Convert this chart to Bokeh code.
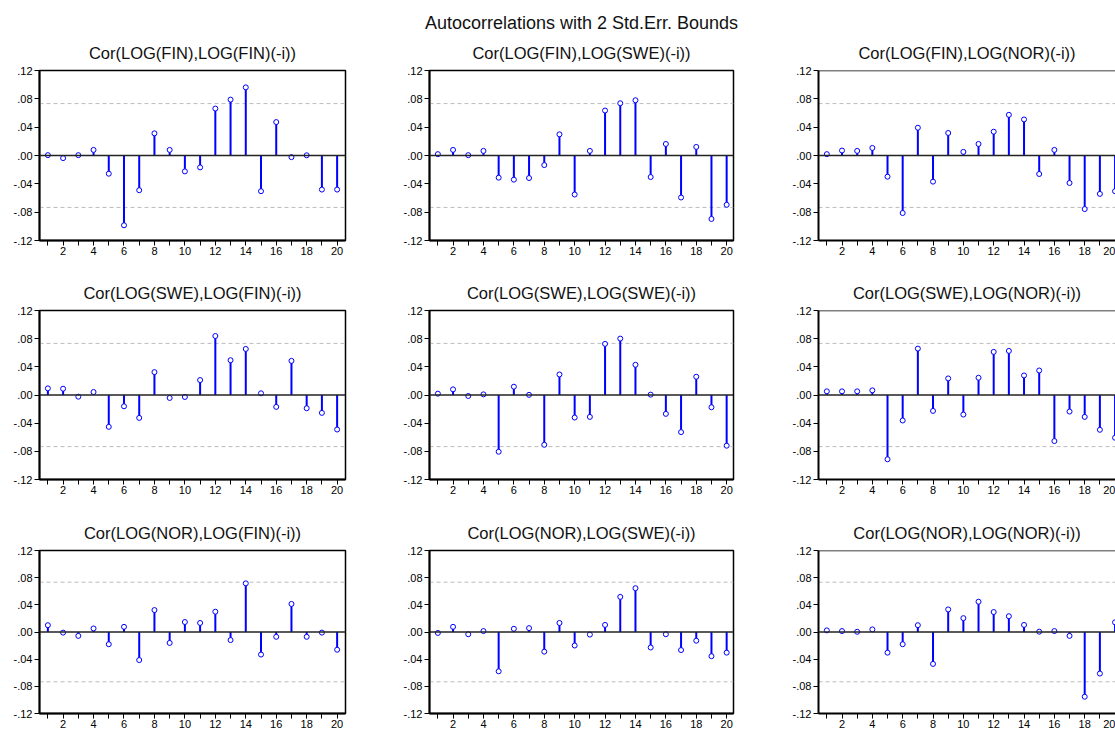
from bokeh.plotting import figure
from bokeh.layouts import column, row
from bokeh.models import Range1d, FixedTicker, CustomJSTickFormatter, Span, Spacer
from bokeh.embed import file_html
from bokeh.resources import INLINE

LAGS = list(range(1, 21))
BOUND = 0.0733
MAIN_TITLE = "Autocorrelations with 2 Std.Err. Bounds"
Y_TICKS = [-0.12, -0.08, -0.04, 0.0, 0.04, 0.08, 0.12]
X_MAJOR = [2, 4, 6, 8, 10, 12, 14, 16, 18, 20]
X_MINOR = [1, 3, 5, 7, 9, 11, 13, 15, 17, 19]

fin_fin = [0.0005, -0.0037, 0.0005, 0.0079, -0.0257, -0.0985, -0.0490, 0.0313, 0.0079, -0.0224,
           -0.0168, 0.0663, 0.0789, 0.0962, -0.0504, 0.0472, -0.0023, 0.0003, -0.0481, -0.0481]
fin_swe = [0.0019, 0.0079, 0.0005, 0.0065, -0.0313, -0.0341, -0.0318, -0.0135, 0.0299, -0.0551,
           0.0065, 0.0635, 0.0738, 0.0780, -0.0304, 0.0163, -0.0593, 0.0121, -0.0896, -0.0696]
fin_nor = [0.0019, 0.0070, 0.0065, 0.0107, -0.0299, -0.0812, 0.0392, -0.0369, 0.0318, 0.0051,
           0.0163, 0.0336, 0.0574, 0.0509, -0.0261, 0.0079, -0.0388, -0.0756, -0.0542, -0.0504]
swe_fin = [0.0094, 0.0089, -0.0024, 0.0042, -0.0452, -0.0160, -0.0325, 0.0325, -0.0042, -0.0028,
           0.0212, 0.0838, 0.0494, 0.0654, 0.0024, -0.0169, 0.0485, -0.0188, -0.0254, -0.0490]
swe_swe = [0.0019, 0.0080, -0.0014, 0.0009, -0.0806, 0.0118, 0.0002, -0.0707, 0.0292, -0.0320,
           -0.0311, 0.0726, 0.0801, 0.0429, 0.0005, -0.0268, -0.0527, 0.0259, -0.0174, -0.0720]
swe_nor = [0.0052, 0.0052, 0.0052, 0.0066, -0.0913, -0.0362, 0.0659, -0.0226, 0.0235, -0.0278,
           0.0245, 0.0612, 0.0626, 0.0278, 0.0348, -0.0654, -0.0235, -0.0311, -0.0494, -0.0607]
nor_fin = [0.0100, -0.0009, -0.0057, 0.0052, -0.0180, 0.0076, -0.0413, 0.0323, -0.0161, 0.0147,
           0.0133, 0.0299, -0.0119, 0.0716, -0.0332, -0.0071, 0.0413, -0.0071, -0.0009, -0.0261]
nor_swe = [-0.0014, 0.0076, -0.0033, 0.0014, -0.0579, 0.0047, 0.0057, -0.0289, 0.0133, -0.0199,
           -0.0038, 0.0104, 0.0517, 0.0645, -0.0228, -0.0033, -0.0266, -0.0128, -0.0356, -0.0304]
nor_nor = [0.0024, 0.0014, 0.0003, 0.0038, -0.0304, -0.0180, 0.0100, -0.0470, 0.0332, 0.0204,
           0.0446, 0.0294, 0.0232, 0.0104, 0.0005, 0.0014, -0.0057, -0.0953, -0.0612, 0.0142]

TITLES = [
    ["Cor(LOG(FIN),LOG(FIN)(-i))", "Cor(LOG(FIN),LOG(SWE)(-i))", "Cor(LOG(FIN),LOG(NOR)(-i))"],
    ["Cor(LOG(SWE),LOG(FIN)(-i))", "Cor(LOG(SWE),LOG(SWE)(-i))", "Cor(LOG(SWE),LOG(NOR)(-i))"],
    ["Cor(LOG(NOR),LOG(FIN)(-i))", "Cor(LOG(NOR),LOG(SWE)(-i))", "Cor(LOG(NOR),LOG(NOR)(-i))"],
]
SERIES = [[fin_fin, fin_swe, fin_nor], [swe_fin, swe_swe, swe_nor], [nor_fin, nor_swe, nor_nor]]

FONT = "Liberation Sans"
BLUE = "#0000FF"

# layout geometry (per column / per row)
COL_W = [390, 390, 335]
COL_LEFT = [39, 39, 38]
COL_RIGHT = [45, 47, 0]
COL_XEND = [20.55, 20.45, 20.03]
ROW_H = [240, 240, 218]
ROW_TOP = [36, 36, 36]
ROW_BOTTOM = [33, 34, 18]


def make_panel(r, c):
    vals = SERIES[r][c]
    p = figure(width=COL_W[c], height=ROW_H[r], output_backend="svg", toolbar_location=None,
               x_range=Range1d(0.45, COL_XEND[c]), y_range=Range1d(-0.12, 0.12),
               min_border_left=COL_LEFT[c], min_border_right=COL_RIGHT[c],
               min_border_top=ROW_TOP[r], min_border_bottom=ROW_BOTTOM[r],
               background_fill_color="white", border_fill_color="white")
    p.title.text = TITLES[r][c]
    p.title.align = "center"
    p.title.text_font = FONT
    p.title.text_font_size = "16.5px"
    p.title.text_font_style = "normal"
    p.title.text_color = "#111111"
    p.title.standoff = 17
    p.xgrid.visible = False
    p.ygrid.visible = False
    if c < 2:
        p.outline_line_color = "black"
        p.outline_line_width = 1.5
    else:
        p.outline_line_color = None
        p.add_layout(Span(location=0.12, dimension="width", line_color="black", line_width=1.5))

    # bounds and zero line
    for b in (BOUND, -BOUND):
        p.add_layout(Span(location=b, dimension="width", line_color="#BBBBBB",
                          line_width=1, line_dash="4 3", level="underlay"))
    p.add_layout(Span(location=0, dimension="width", line_color="#222222", line_width=1.6))

    p.segment(x0=LAGS, y0=[0] * len(LAGS), x1=LAGS, y1=vals, line_color=BLUE, line_width=2)
    p.scatter(LAGS, vals, marker="circle", size=5, fill_color="white", line_color=BLUE, line_width=1)

    xa = p.xaxis[0]
    xa.ticker = FixedTicker(ticks=X_MAJOR, minor_ticks=X_MINOR)
    xa.major_tick_in = 0
    xa.major_tick_out = 5
    xa.minor_tick_in = 0
    xa.minor_tick_out = 5
    xa.major_tick_line_color = "black"
    xa.minor_tick_line_color = "black"
    xa.axis_line_color = "black"
    xa.axis_line_width = 2
    xa.major_label_standoff = 1
    xa.major_label_text_font = FONT
    xa.major_label_text_font_size = "11px"
    xa.major_label_text_color = "black"

    ya = p.yaxis[0]
    ya.ticker = FixedTicker(ticks=Y_TICKS, minor_ticks=[])
    ya.formatter = CustomJSTickFormatter(code="return tick.toFixed(2).replace('0.', '.');")
    ya.major_tick_in = 0
    ya.major_tick_out = 5
    ya.minor_tick_out = 0
    ya.major_tick_line_color = "black"
    ya.axis_line_color = "black"
    ya.axis_line_width = 2
    ya.major_label_standoff = 2
    ya.major_label_text_font = FONT
    ya.major_label_text_font_size = "11px"
    ya.major_label_text_color = "black"
    return p


title_fig = figure(width=1115, height=24, output_backend="svg", toolbar_location=None,
                   x_range=Range1d(0, 1), y_range=Range1d(0, 1),
                   x_axis_location=None, y_axis_location=None,
                   min_border_left=47, min_border_right=0, min_border_top=0, min_border_bottom=0,
                   outline_line_color=None)
title_fig.title.text = MAIN_TITLE
title_fig.title.align = "center"
title_fig.title.text_font = FONT
title_fig.title.text_font_size = "18px"
title_fig.title.text_font_style = "normal"
title_fig.title.text_color = "#111111"
title_fig.title.standoff = 2
title_fig.xgrid.visible = False
title_fig.ygrid.visible = False

rows = [row(*[make_panel(r, c) for c in range(3)]) for r in range(3)]
layout = column(Spacer(width=1115, height=9), title_fig, *rows)

open("out.html", "w").write(file_html(layout, INLINE))
